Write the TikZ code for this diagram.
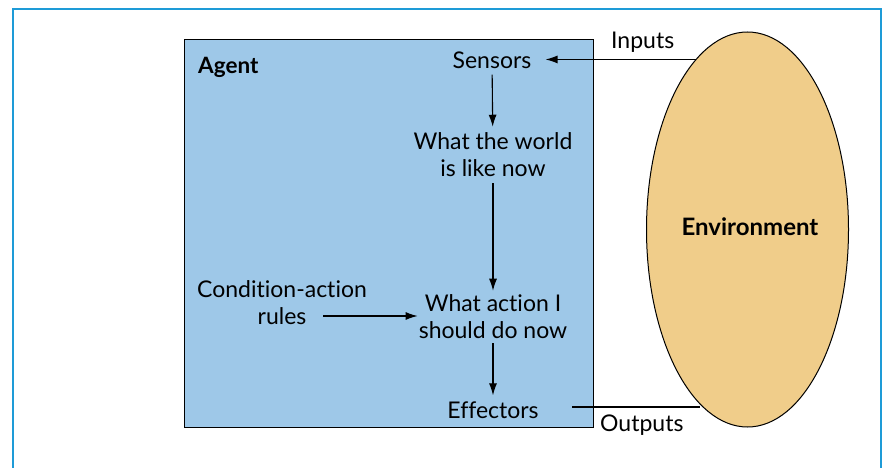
\documentclass[tikz,border=0pt]{standalone}
\usepackage{fontspec}
\setmainfont{Lato}[Ligatures=NoCommon]
\usetikzlibrary{arrows.meta,shapes.geometric}
\definecolor{framecol}{HTML}{1E9BD7}
\definecolor{agentcol}{HTML}{9EC8E8}
\definecolor{envcol}{HTML}{F0CD8A}
\begin{document}
\begin{tikzpicture}[x=1pt,y=-1pt,
        txt/.style={align=center,font=\fontsize{23}{27}\selectfont,inner sep=6pt},
        arr/.style={line width=1.1pt,-{Latex[length=12pt,width=8pt]}}]
        \useasboundingbox (0,0) rectangle (883,468);
        \draw[framecol,line width=2pt] (13,470) -- (13,9) -- (881,9) -- (881,470);
        \draw[fill=agentcol,line width=1pt] (184,40) rectangle (593,427);
        \node[font=\fontsize{22.5}{24}\selectfont\bfseries,anchor=west,inner sep=0pt] (agent) at (198,67) {Agent};
        \node[ellipse,draw,fill=envcol,line width=1pt,minimum width=202pt,minimum height=395pt] (env) at (747.5,229.5) {};
        \node[font=\fontsize{24}{24}\selectfont\bfseries] (envlabel) at (750,227) {Environment};
        \node[txt,inner xsep=14pt] (sensors) at (492,60) {Sensors};
        \node[txt] (world) at (493,155) {What the world\\is like now};
        \node[txt,inner xsep=1pt,inner ysep=4pt] (action) at (493,317) {What action I\\should do now};
        \node[txt] (rules) at (282,303) {Condition-action\\rules};
        \node[txt] (effectors) at (493,410) {Effectors};
        \node[txt,anchor=west,inner sep=0pt] (inputs) at (611,42) {Inputs};
        \node[txt,anchor=west,inner sep=0pt] (outputs) at (600,425) {Outputs};
        % connectors
        \coordinate (inp) at (env.107.7);
        \coordinate (outp) at (env.255.9);
        \coordinate (outstart) at (572,407);
        \coordinate (rulesout) at (323,316);
        \draw[arr] (inp) -- (inp -| sensors.east);
        \draw[line width=1.1pt] (outstart) -- (outstart -| outp);
        \draw[arr] (sensors) -- (world);
        \draw[arr] (world) -- (action);
        \draw[arr] (action) -- (effectors);
        \draw[arr] (rulesout) -- (rulesout -| action.west);
    \end{tikzpicture}
\end{document}
